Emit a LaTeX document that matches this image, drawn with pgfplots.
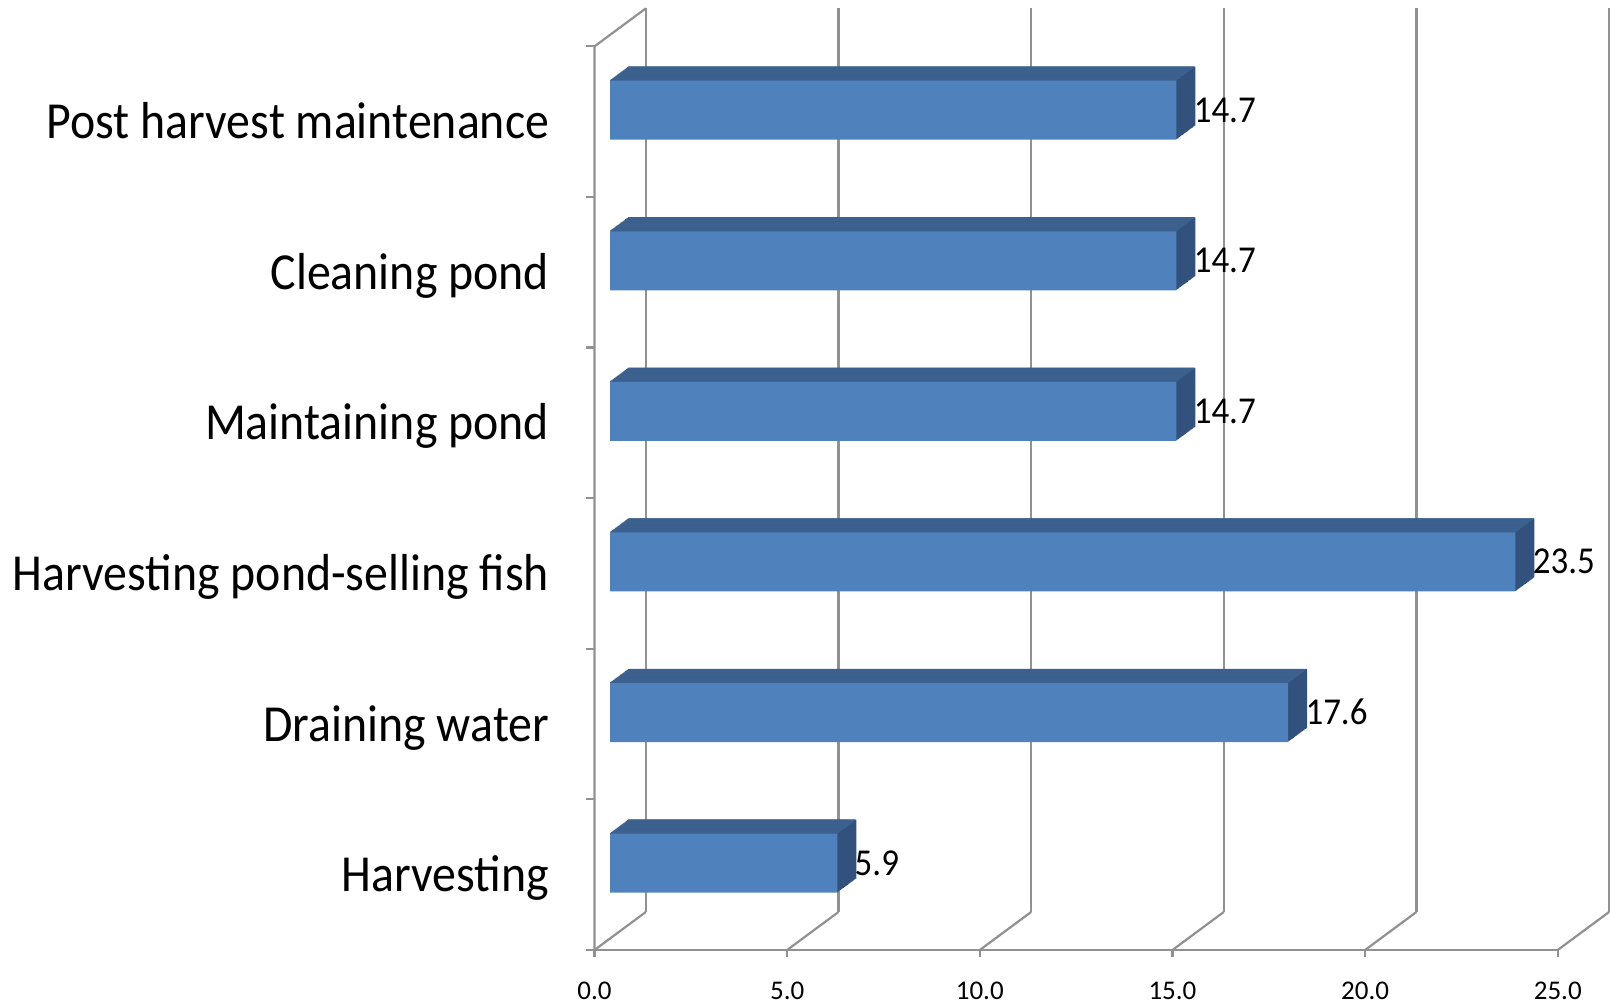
\documentclass[border=0pt]{standalone}
\usepackage{pgfplots}
\pgfplotsset{compat=1.18}
\usepackage{pgfplotstable}
\usepackage{fontspec}
\setmainfont{Carlito}[FakeStretch=0.92]
\newfontfamily\tickfont{Carlito}
\definecolor{frontc}{RGB}{79,129,189}
\definecolor{topc}{RGB}{60,97,143}
\definecolor{sidec}{RGB}{50,82,125}
\definecolor{gridc}{RGB}{145,145,145}

\pgfplotstableread{
pos v
0.5 5.9
1.5 17.6
2.5 23.5
3.5 14.7
4.5 14.7
5.5 14.7
}\datatable

\begin{document}
\begin{tikzpicture}
\begin{axis}[
 x=19.265pt, y=75.3pt,
 xmin=0, xmax=25, ymin=0, ymax=6,
 clip=false,
 axis x line*=bottom, axis y line*=left,
 axis line style={draw=none},
 major tick length=0pt, tick style={draw=none},
 xtick={0,5,...,25},
 xticklabels={0.0,5.0,10.0,15.0,20.0,25.0},
 xticklabel style={font=\tickfont\fontsize{13.5}{14}\selectfont, anchor=north, inner sep=0pt, yshift=-16pt},
 ytick={0.5,1.5,...,5.5},
 yticklabels={Harvesting, Draining water, Harvesting pond-selling fish, Maintaining pond, Cleaning pond, Post harvest maintenance},
 yticklabel style={font=\fontsize{26}{28}\selectfont, anchor=base east, inner sep=0pt, xshift=-22.5pt, yshift=-8.5pt},
]
% walls and grid
\addplot[gridc, line width=1.1pt] coordinates {(0,0) (25,0)};
\addplot[gridc, line width=1.1pt, unbounded coords=jump] coordinates {
 (0,0) (0,-0.047) (nan,nan) (5,0) (5,-0.047) (nan,nan) (10,0) (10,-0.047) (nan,nan)
 (15,0) (15,-0.047) (nan,nan) (20,0) (20,-0.047) (nan,nan) (25,0) (25,-0.047)};
\addplot[gridc, line width=1.1pt, unbounded coords=jump] coordinates {
 (0,0) (1.3325,0.2523) (nan,nan) (5,0) (6.3325,0.2523) (nan,nan) (10,0) (11.3325,0.2523) (nan,nan)
 (15,0) (16.3325,0.2523) (nan,nan) (20,0) (21.3325,0.2523) (nan,nan) (25,0) (26.3325,0.2523)};
\addplot[gridc, line width=1.1pt, unbounded coords=jump] coordinates {
 (1.3325,0.2523) (1.3325,6.2523) (nan,nan) (6.3325,0.2523) (6.3325,6.2523) (nan,nan)
 (11.3325,0.2523) (11.3325,6.2523) (nan,nan) (16.3325,0.2523) (16.3325,6.2523) (nan,nan)
 (21.3325,0.2523) (21.3325,6.2523) (nan,nan) (26.3325,0.2523) (26.3325,6.2523)};
\addplot[gridc, line width=1.1pt] coordinates {(0,0) (0,6) (1.3325,6.2523)};
\addplot[gridc, line width=1.1pt, unbounded coords=jump] coordinates {
 (0,0) (-0.213,0) (nan,nan) (0,1) (-0.213,1) (nan,nan) (0,2) (-0.213,2) (nan,nan)
 (0,3) (-0.213,3) (nan,nan) (0,4) (-0.213,4) (nan,nan) (0,5) (-0.213,5) (nan,nan) (0,6) (-0.213,6)};
% side body
\pgfplotsinvokeforeach{1,...,20}{
 \addplot[xbar, bar width=29.5pt, fill=sidec, draw=none,
   xshift={7.75pt+9.5pt*#1/20}, yshift={5.75pt+7pt*#1/20}]
   table[x=v,y=pos]{\datatable};
}
% top face
\pgfplotsinvokeforeach{0,...,19}{
 \addplot[xbar, bar width=0.55pt, fill=topc, draw=none,
   xshift={7.75pt+9.5pt*#1/20}, yshift={5.75pt+14.925pt+7pt*#1/20}]
   table[x=v,y=pos]{\datatable};
}
% front face
\addplot[xbar, bar width=29.5pt, fill=frontc, draw=none, xshift=7.75pt, yshift=5.75pt,
  nodes near coords, point meta=explicit symbolic,
  every node near coord/.append style={font=\fontsize{19}{20}\selectfont, anchor=base west, inner sep=0pt, xshift=8.5pt, yshift=-6pt, text=black}]
  table[x=v,y=pos,meta=v]{\datatable};
\coordinate (bbBL) at (axis cs:-15.43,-0.372);
\coordinate (bbTR) at (axis cs:26.356,6.308);
\end{axis}
\pgfresetboundingbox
\path[use as bounding box] (bbBL) rectangle (bbTR);
\end{tikzpicture}
\end{document}
